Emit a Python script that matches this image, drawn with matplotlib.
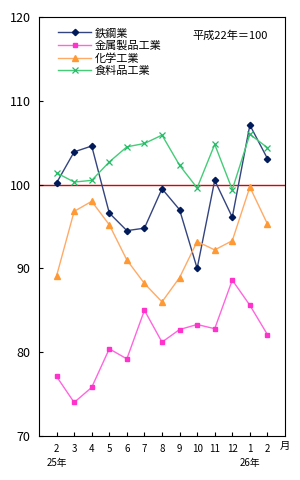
import matplotlib
matplotlib.use('Agg')
import matplotlib.pyplot as plt

plt.rcParams['font.family'] = ['Noto Sans CJK JP', 'DejaVu Sans']

# 月 (平成25年2月 - 平成26年2月)
months = ['2', '3', '4', '5', '6', '7', '8', '9', '10', '11', '12', '1', '2']

tekko = [100.2, 103.9, 104.6, 96.6, 94.5, 94.8, 99.5, 97.0, 90.0, 100.5, 96.1, 107.1, 103.1]
kinzoku = [77.1, 74.0, 75.8, 80.4, 79.2, 85.0, 81.2, 82.7, 83.3, 82.8, 88.6, 85.6, 82.1]
kagaku = [89.1, 96.8, 98.0, 95.2, 91.0, 88.2, 86.0, 88.9, 93.2, 92.2, 93.3, 99.7, 95.3]
shokuryo = [101.4, 100.3, 100.5, 102.7, 104.5, 104.9, 105.9, 102.3, 99.6, 104.8, 99.4, 106.0, 104.4]

fig = plt.figure(figsize=(3, 4.8), dpi=100)
ax = fig.add_axes([0.13, 0.0917, 0.82, 0.873])

x = list(range(len(months)))
ax.axhline(100, color='#E00000', lw=1, zorder=1)
ax.plot(x, tekko, color='#34447F', lw=1, marker='D', ms=3.2,
        mfc='#001A5A', mec='#001A5A', label='鉄鋼業', zorder=3)
ax.plot(x, kinzoku, color='#FF66DD', lw=1, marker='s', ms=3.5,
        mfc='#FF33CC', mec='#FF33CC', label='金属製品工業', zorder=3)
ax.plot(x, kagaku, color='#FFAA66', lw=1, marker='^', ms=4,
        mfc='#FF9933', mec='#FF9933', label='化学工業', zorder=3)
ax.plot(x, shokuryo, color='#44CC77', lw=1, marker='x', ms=4.5,
        mec='#22BB66', mew=0.9, label='食料品工業', zorder=3)

ax.set_xlim(-1, 13)
ax.set_ylim(70, 120)
ax.set_yticks([70, 80, 90, 100, 110, 120])
ax.set_xticks(x)
ax.set_xticklabels(months)
ax.tick_params(axis='y', direction='in', length=3, labelsize=9, pad=6)
ax.tick_params(axis='x', direction='in', length=3, labelsize=7, pad=6)
for s in ax.spines.values():
    s.set_linewidth(0.8)

ax.text(0, -0.052, '25年', transform=ax.get_xaxis_transform(),
        ha='center', va='top', fontsize=7)
ax.text(11, -0.052, '26年', transform=ax.get_xaxis_transform(),
        ha='center', va='top', fontsize=7)
ax.text(13, -0.013, '月', transform=ax.get_xaxis_transform(),
        ha='center', va='top', fontsize=7.5)
ax.text(0.93, 0.968, '平成22年＝100', transform=ax.transAxes,
        ha='right', va='top', fontsize=8)

ax.legend(loc='upper left', bbox_to_anchor=(0.05, 0.99), frameon=False,
          fontsize=8, handlelength=3.0, labelspacing=0.2, borderaxespad=0.2,
          handletextpad=0.3)

fig.savefig('out.png')
